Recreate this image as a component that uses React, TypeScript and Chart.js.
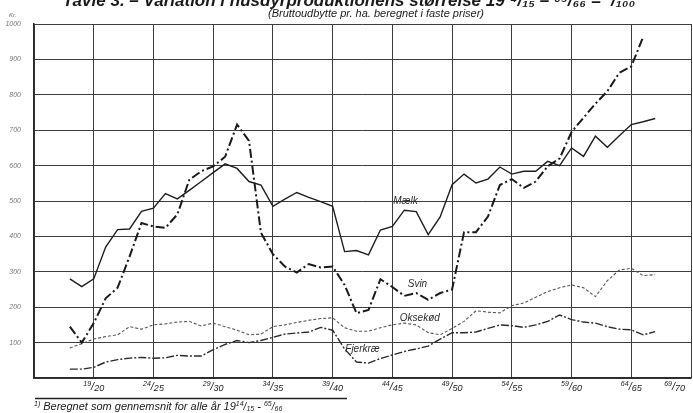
import React, { useEffect, useRef } from 'react';
import { Chart, registerables } from 'chart.js';

Chart.register(...registerables);

// ---- Data (harvest year start, e.g. 1917 = 1917/18) ----
const years = [
  1917, 1918, 1919, 1920, 1921, 1922, 1923, 1924, 1925, 1926,
  1927, 1928, 1929, 1930, 1931, 1932, 1933, 1934, 1935, 1936,
  1937, 1938, 1939, 1940, 1941, 1942, 1943, 1944, 1945, 1946,
  1947, 1948, 1949, 1950, 1951, 1952, 1953, 1954, 1955, 1956,
  1957, 1958, 1959, 1960, 1961, 1962, 1963, 1964, 1965, 1966,
];

const maelk = [
  280, 258, 280, 370, 419, 421, 471, 480, 521, 506,
  530, 555, 580, 605, 592, 555, 545, 485, 505, 524,
  510, 498, 485, 357, 360, 348, 418, 428, 474, 470,
  405, 455, 546, 576, 551, 562, 596, 576, 584, 584,
  612, 600, 650, 626, 683, 652, 684, 716, 724, 733,
];

const svin = [
  145, 100, 155, 225, 255, 343, 438, 428, 424, 462,
  560, 584, 598, 625, 716, 670, 410, 350, 315, 298,
  322, 312, 315, 263, 183, 192, 279, 257, 232, 240,
  221, 240, 250, 412, 412, 456, 545, 562, 537, 555,
  598, 620, 695, 735, 775, 810, 862, 880, 964,
];

const oksekoed = [
  85, 97, 110, 117, 122, 145, 138, 150, 153, 158,
  160, 147, 155, 145, 135, 122, 124, 145, 150, 157,
  163, 168, 170, 142, 132, 132, 142, 150, 155, 150,
  128, 122, 140, 160, 190, 186, 184, 204, 212, 228,
  244, 255, 263, 255, 230, 275, 305, 310, 289, 292,
];

const fjerkrae = [
  25, 25, 30, 45, 52, 56, 58, 56, 57, 64,
  62, 62, 80, 95, 106, 100, 106, 115, 124, 127,
  130, 143, 135, 82, 45, 42, 55, 65, 75, 82,
  90, 110, 128, 128, 130, 140, 150, 148, 143, 150,
  160, 178, 165, 158, 155, 145, 138, 136, 122, 131,
];

// x grid / tick positions and their labels (superscript / subscript parts)
const xTickYears = [1914, 1919, 1924, 1929, 1934, 1939, 1944, 1949, 1954, 1959, 1964, 1969];
const xTickSup = ['', '19', '24', '29', '34', '39', '44', '49', '54', '59', '64', '69'];
const xTickSub = ['', '20', '25', '30', '35', '40', '45', '50', '55', '60', '65', '70'];

// series name labels, anchored in data coordinates
const seriesNames = ['Mælk', 'Svin', 'Oksekød', 'Fjerkræ'];
const seriesLabelYears = [1945.1, 1946.1, 1946.3, 1941.5];
const seriesLabelValues = [500, 266, 170, 82];

const FAM = '"Liberation Sans", Arial, sans-serif';

function toPoints(vals: number[]) {
  return vals.map((v, i) => ({ x: years[i], y: v }));
}

function fracWidth(ctx: CanvasRenderingContext2D, a: string, b: string, s: number[]) {
  ctx.font = `italic ${s[0]}px ${FAM}`;
  let w = ctx.measureText(a).width;
  ctx.font = `italic ${s[1]}px ${FAM}`;
  w += ctx.measureText('/').width;
  ctx.font = `italic ${s[2]}px ${FAM}`;
  w += ctx.measureText(b).width;
  return w;
}

function drawFrac(ctx: CanvasRenderingContext2D, x: number, y: number, a: string, b: string, s: number[], raise: number, drop: number) {
  ctx.textAlign = 'left';
  ctx.textBaseline = 'alphabetic';
  ctx.font = `italic ${s[0]}px ${FAM}`;
  ctx.fillText(a, x, y - raise);
  x += ctx.measureText(a).width;
  ctx.font = `italic ${s[1]}px ${FAM}`;
  ctx.fillText('/', x, y);
  x += ctx.measureText('/').width;
  ctx.font = `italic ${s[2]}px ${FAM}`;
  ctx.fillText(b, x, y + drop);
  x += ctx.measureText(b).width;
  return x;
}

const annotations = {
  id: 'annotations',
  afterDraw(chart: any) {
    const ctx: CanvasRenderingContext2D = chart.ctx;
    const xs = chart.scales.x;
    const ys = chart.scales.y;
    ctx.save();
    ctx.fillStyle = '#1a1a1a';

    // Title (top half cut off by the page edge)
    const tParts = ['Tavle 3. – Variation i husdyrproduktionens størrelse 19', '¹⁴/₁₅ – ⁶⁵/₆₆ = ¹/₁₀₀'];
    ctx.font = `italic bold 17px ${FAM}`;
    const tw = ctx.measureText(tParts[0] + tParts[1]).width;
    ctx.textAlign = 'left';
    ctx.textBaseline = 'alphabetic';
    ctx.fillText(tParts[0] + tParts[1], 349 - tw / 2, 6);

    // Subtitle
    ctx.font = `italic 11px ${FAM}`;
    ctx.textAlign = 'center';
    ctx.fillText('(Bruttoudbytte pr. ha. beregnet i faste priser)', 376, 17);

    // Unit
    ctx.font = `italic 6px ${FAM}`;
    ctx.fillStyle = '#666';
    ctx.textAlign = 'left';
    ctx.fillText('Kr.', 9, 17);

    // X tick labels
    ctx.fillStyle = '#222';
    const sizes = [7, 11, 9];
    for (let i = 0; i < xTickYears.length; i++) {
      if (!xTickSup[i]) continue;
      const px = xs.getPixelForValue(xTickYears[i]);
      const w = fracWidth(ctx, xTickSup[i], xTickSub[i], sizes);
      let left = px - w / 2;
      if (left + w > chart.width - 2) left = chart.width - 2 - w - 6;
      drawFrac(ctx, left, 390, xTickSup[i], xTickSub[i], sizes, 4, 1);
    }

    // Series labels
    ctx.font = `italic 10px ${FAM}`;
    ctx.fillStyle = '#2a2a2a';
    ctx.textAlign = 'center';
    ctx.textBaseline = 'middle';
    for (let i = 0; i < seriesNames.length; i++) {
      ctx.fillText(seriesNames[i], xs.getPixelForValue(seriesLabelYears[i]), ys.getPixelForValue(seriesLabelValues[i]));
    }

    // Footnote rule
    ctx.strokeStyle = '#222';
    ctx.lineWidth = 1.5;
    ctx.beginPath();
    ctx.moveTo(xs.left + 1, 398.5);
    ctx.lineTo(347, 398.5);
    ctx.stroke();

    // Footnote
    ctx.fillStyle = '#1a1a1a';
    ctx.textBaseline = 'alphabetic';
    ctx.textAlign = 'left';
    let fx = 34;
    ctx.font = `italic 7px ${FAM}`;
    ctx.fillText('1)', fx, 406);
    fx += ctx.measureText('1)').width + 3;
    ctx.font = `italic 11px ${FAM}`;
    const ft = 'Beregnet som gennemsnit for alle år 19';
    ctx.fillText(ft, fx, 410);
    fx += ctx.measureText(ft).width;
    fx = drawFrac(ctx, fx, 410, '14', '15', [7, 10, 7], 4, 1);
    ctx.font = `italic 11px ${FAM}`;
    ctx.fillText(' - ', fx, 410);
    fx += ctx.measureText(' - ').width;
    drawFrac(ctx, fx, 410, '65', '66', [7, 10, 7], 4, 1);

    ctx.restore();
  },
};

export default function App() {
  const ref = useRef<HTMLCanvasElement | null>(null);

  useEffect(() => {
    document.body.style.margin = '0';
    document.body.style.background = '#ffffff';
    const canvas = ref.current;
    if (!canvas) return;

    const gridColor = '#3d3d3d';
    const chart = new Chart(canvas, {
      type: 'line',
      data: {
        datasets: [
          {
            label: 'Mælk',
            data: toPoints(maelk),
            borderColor: '#1e1e1e',
            borderWidth: 1.4,
            pointRadius: 0,
            fill: false,
          },
          {
            label: 'Svin',
            data: toPoints(svin),
            borderColor: '#1a1a1a',
            borderWidth: 2,
            borderDash: [9, 3, 2, 3],
            pointRadius: 0,
            fill: false,
          },
          {
            label: 'Oksekød',
            data: toPoints(oksekoed),
            borderColor: '#555555',
            borderWidth: 1.1,
            borderDash: [3, 2],
            pointRadius: 0,
            fill: false,
          },
          {
            label: 'Fjerkræ',
            data: toPoints(fjerkrae),
            borderColor: '#2a2a2a',
            borderWidth: 1.4,
            borderDash: [8, 2, 2, 2],
            pointRadius: 0,
            fill: false,
          },
        ],
      },
      options: {
        animation: false,
        responsive: false,
        maintainAspectRatio: false,
        layout: { padding: { top: 24, right: 2, left: 0, bottom: 0 } },
        plugins: {
          legend: { display: false },
          tooltip: { enabled: false },
          title: { display: false },
        },
        scales: {
          x: {
            type: 'linear',
            min: 1914,
            max: 1969,
            afterBuildTicks: (scale: any) => {
              scale.ticks = xTickYears.map((v) => ({ value: v }));
            },
            afterFit: (scale: any) => {
              scale.height = 35;
              scale.paddingLeft = 0;
              scale.paddingRight = 0;
            },
            ticks: { display: false },
            grid: { color: gridColor, lineWidth: 1, drawTicks: false },
            border: { color: '#2a2a2a', width: 1.5 },
          },
          y: {
            min: 0,
            max: 1000,
            afterFit: (scale: any) => {
              scale.width = 34;
            },
            ticks: {
              stepSize: 100,
              padding: 13,
              color: '#777',
              font: { family: FAM, style: 'italic', size: 7 },
              callback: (v: any) => (v === 0 ? '' : String(v)),
            },
            grid: { color: gridColor, lineWidth: 1, drawTicks: false },
            border: { color: '#2a2a2a', width: 1.5 },
          },
        },
      },
      plugins: [annotations],
    } as any);

    return () => chart.destroy();
  }, []);

  return (
    <div style={{ width: 693, height: 413, position: 'relative' }}>
      <canvas ref={ref} width={693} height={413} style={{ display: 'block' }} />
    </div>
  );
}
